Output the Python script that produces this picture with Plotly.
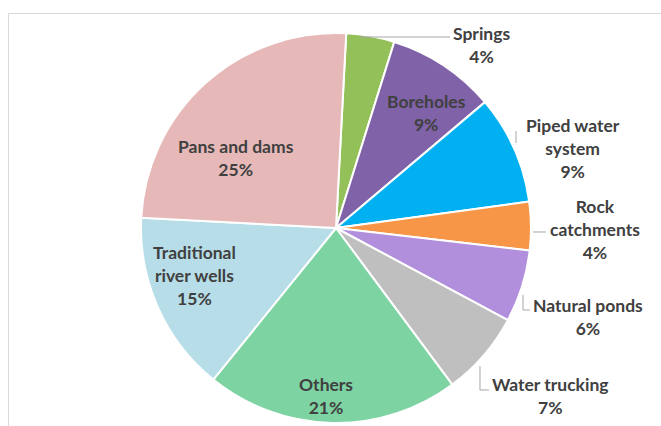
import plotly.graph_objects as go

# Sources of water, share of households (%)
sources = ["Springs", "Boreholes", "Piped water system", "Rock catchments",
           "Natural ponds", "Water trucking", "Others",
           "Traditional river wells", "Pans and dams"]
shares = [4, 9, 9, 4, 6, 7, 21, 15, 25]

# How each source name is wrapped when printed on the chart
wrapped = {
    "Piped water system": "Piped water<br>system",
    "Rock catchments": "Rock<br>catchments",
    "Traditional river wells": "Traditional<br>river wells",
}

slice_colors = ["#93c058", "#7f62a8", "#00b0f0", "#f79646", "#b18fdc",
                "#bfbfbf", "#7dd3a2", "#b7dee8", "#e6b9b8"]

W, H = 661, 426
CX, CY, R = 336, 228, 195   # pie centre and radius, pixels


def px(x):
    return x / W


def py(y):
    return 1 - y / H


fig = go.Figure(go.Pie(
    labels=sources,
    values=shares,
    sort=False,
    direction="clockwise",
    rotation=3,
    textinfo="none",
    hovertemplate="%{label}: %{value}%<extra></extra>",
    marker=dict(colors=slice_colors, line=dict(color="white", width=2)),
    domain=dict(x=[px(CX - R), px(CX + R)], y=[py(CY + R), py(CY - R)]),
    showlegend=False,
))

# Label block centres (pixels)
label_pos = {
    "Springs": (481, 45),
    "Boreholes": (426, 113),
    "Piped water system": (573, 148),
    "Rock catchments": (595, 229),
    "Natural ponds": (588, 317),
    "Water trucking": (550, 396),
    "Others": (326, 396),
    "Traditional river wells": (194, 275),
    "Pans and dams": (236, 158),
}

annotations = []
for name, val in zip(sources, shares):
    x, y = label_pos[name]
    annotations.append(dict(
        x=px(x), y=py(y), xref="paper", yref="paper",
        xanchor="center", yanchor="middle", showarrow=False,
        text=f"{wrapped.get(name, name)}<br>{val}%",
        font=dict(family="Lato", size=17.5, color="#404040", weight="bold"),
    ))

# Leader lines from slices to their outside labels (pixel paths)
leaders = [
    [(360, 37), (450, 37)],
    [(516, 131), (516, 143)],
    [(533, 232), (546, 232)],
    [(523, 295), (523, 310), (530, 310)],
    [(480, 366), (480, 390), (489, 390)],
]
shapes = []
for pts in leaders:
    path = "M " + " L ".join(f"{px(x):.5f},{py(y):.5f}" for x, y in pts)
    shapes.append(dict(type="path", xref="paper", yref="paper", path=path,
                       line=dict(color="#a6a6a6", width=1)))

# Chart-area frame
shapes.append(dict(type="rect", xref="paper", yref="paper",
                   x0=px(8.5), y0=-0.2, x1=1.2, y1=py(13.5),
                   line=dict(color="#d9d9d9", width=1), layer="below"))

fig.update_layout(
    width=W, height=H,
    margin=dict(l=0, r=0, t=0, b=0),
    paper_bgcolor="white",
    plot_bgcolor="white",
    annotations=annotations,
    shapes=shapes,
)

fig.write_html("out.html")
